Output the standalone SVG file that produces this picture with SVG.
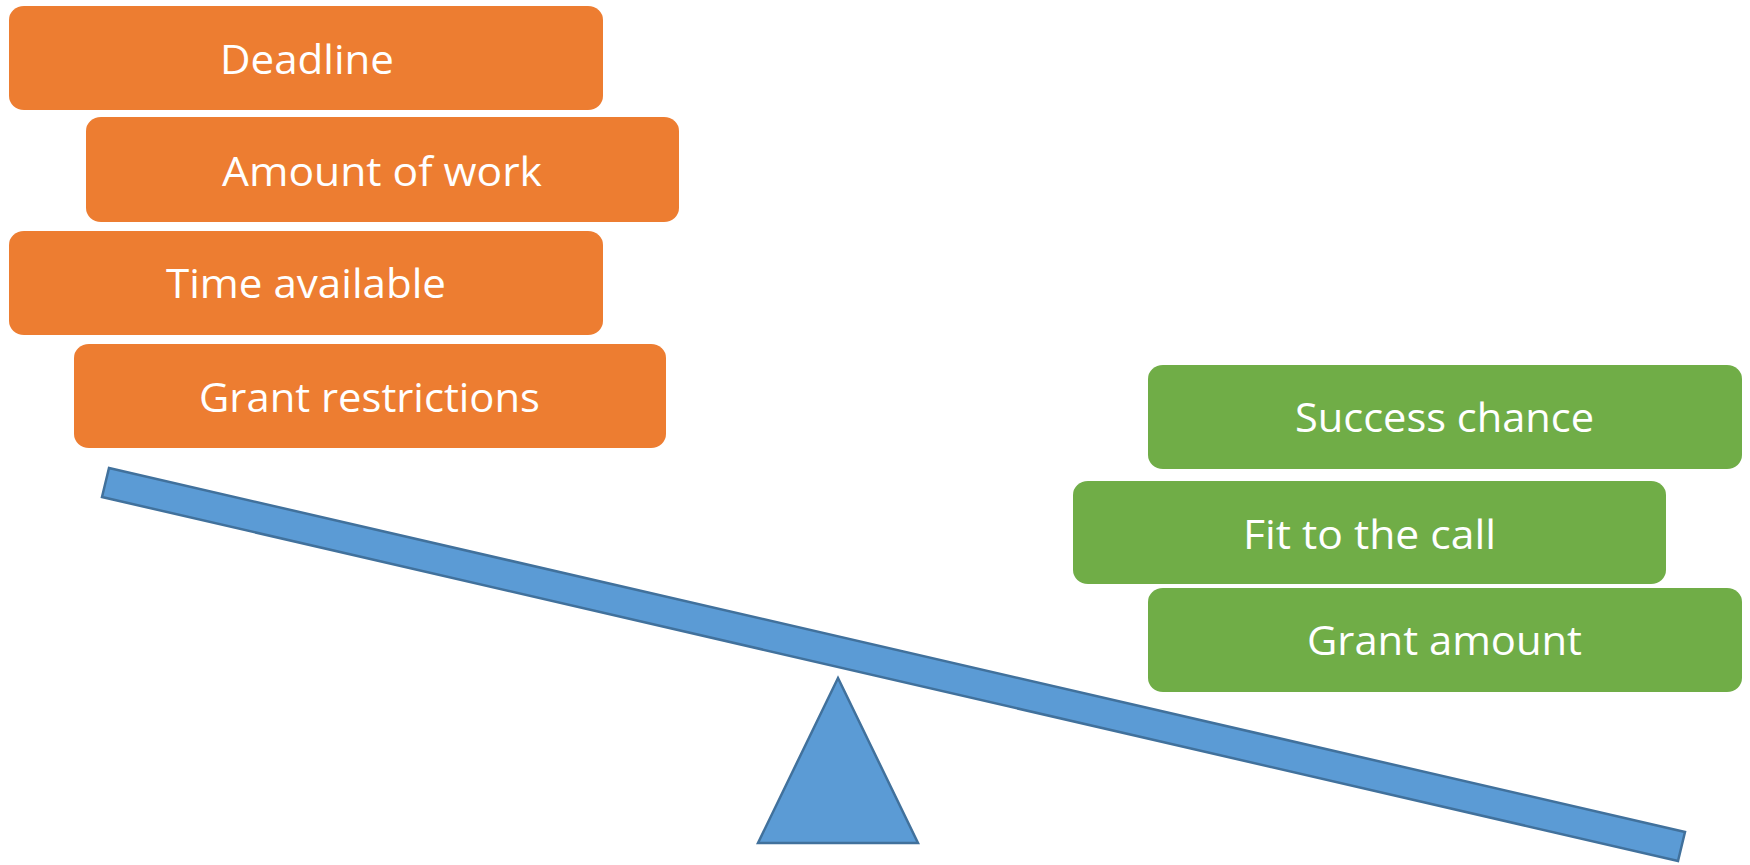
<svg xmlns="http://www.w3.org/2000/svg" width="1750" height="865" viewBox="0 0 1750 865">
<style>
.o{fill:#ED7D31}
.g{fill:#70AD47}
.t{font-family:"Open Sans","Liberation Sans",sans-serif;font-size:40px;fill:#FFFFFF}
.b{fill:#5B9BD5;stroke:#41719C;stroke-width:2.5;stroke-linejoin:miter}
</style>
<rect width="1750" height="865" fill="#FFFFFF"/>
<g id="beam"><polygon class="b" points="109,468 1685,832 1678,861 102,497"/></g>
<g id="fulcrum"><polygon class="b" points="838,678 918,843 758,843"/></g>
<g id="deadline"><rect class="o" x="9" y="6" width="594" height="104" rx="15" ry="14"/><text class="t" x="220" y="74" textLength="174" lengthAdjust="spacingAndGlyphs">Deadline</text></g>
<g id="amount-of-work"><rect class="o" x="86" y="117" width="593" height="105" rx="15" ry="14"/><text class="t" x="222" y="186" textLength="320" lengthAdjust="spacingAndGlyphs">Amount of work</text></g>
<g id="time-available"><rect class="o" x="9" y="231" width="594" height="104" rx="15" ry="14"/><text class="t" x="166" y="298" textLength="280" lengthAdjust="spacingAndGlyphs">Time available</text></g>
<g id="grant-restrictions"><rect class="o" x="74" y="344" width="592" height="104" rx="15" ry="14"/><text class="t" x="199" y="412" textLength="341" lengthAdjust="spacingAndGlyphs">Grant restrictions</text></g>
<g id="success-chance"><rect class="g" x="1148" y="365" width="594" height="104" rx="15" ry="14"/><text class="t" x="1295" y="432" textLength="299" lengthAdjust="spacingAndGlyphs">Success chance</text></g>
<g id="fit-to-the-call"><rect class="g" x="1073" y="481" width="593" height="103" rx="15" ry="14"/><text class="t" x="1243" y="549" textLength="253" lengthAdjust="spacingAndGlyphs">Fit to the call</text></g>
<g id="grant-amount"><rect class="g" x="1148" y="588" width="594" height="104" rx="15" ry="14"/><text class="t" x="1307" y="655" textLength="275" lengthAdjust="spacingAndGlyphs">Grant amount</text></g>
</svg>
